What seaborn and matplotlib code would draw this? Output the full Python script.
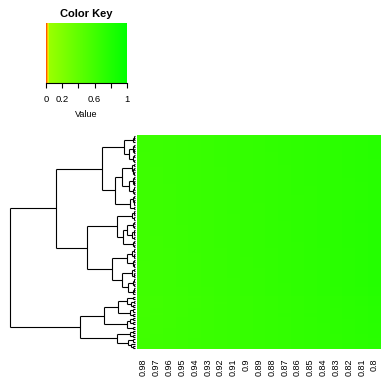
import numpy as np
import pandas as pd
import matplotlib
matplotlib.use("Agg")
import matplotlib.pyplot as plt
import seaborn as sns
from matplotlib.colors import LinearSegmentedColormap

# ---------------- data ----------------
col_labels = ["0.98", "0.97", "0.96", "0.95", "0.94", "0.93", "0.92", "0.91", "0.9",
              "0.89", "0.88", "0.87", "0.86", "0.85", "0.84", "0.83", "0.82", "0.81", "0.8"]
col_base = [0.610, 0.618, 0.626, 0.635, 0.643, 0.651, 0.660, 0.668, 0.677, 0.685,
            0.694, 0.702, 0.711, 0.719, 0.728, 0.736, 0.745, 0.754, 0.765]
tilt_pattern = [-1.0, -0.889, -0.778, -0.667, -0.556, -0.444, -0.333, -0.222, -0.111, 0.0,
                0.111, 0.222, 0.333, 0.444, 0.556, 0.667, 0.778, 0.889, 1.0]

# row profiles of the three main row groups (level coordinate v, tilt coordinate u)
a1_v = [-0.160, -0.155, -0.151, -0.146, -0.128, -0.124, -0.119, -0.115, -0.110,
        -0.092, -0.088, -0.083, -0.079, -0.062, -0.057, -0.053, -0.049, -0.044, -0.040,
        -0.010, -0.006, -0.001, 0.003, 0.008, 0.025, 0.029, 0.034, 0.038,
        0.055, 0.059, 0.064, 0.068, 0.072, 0.088, 0.092]
a1_u = 0.0
a2_v = [-0.190, -0.184, -0.179, -0.173, -0.168, -0.148, -0.143, -0.137, -0.132,
        -0.112, -0.106, -0.101, -0.095, -0.090, -0.070, -0.065, -0.059, -0.054,
        0.000, 0.005, 0.011, 0.016, 0.022, 0.042, 0.047, 0.053, 0.058,
        0.078, 0.083, 0.089, 0.094, 0.100, 0.120, 0.125, 0.131, 0.136,
        0.160, 0.166, 0.171, 0.177]
a2_u = 0.500
b_u = [0.060, 0.075, 0.088, 0.100, 0.115, 0.160, 0.172, 0.185, 0.198,
       0.240, 0.252, 0.265, 0.278, 0.290, 0.302, 0.350, 0.362, 0.375, 0.388,
       0.420, 0.433, 0.446, 0.458, 0.470, 0.480]
b_v = 0.66

K = 0.02
TILT = 1.643

row_v = np.array(a1_v + a2_v + [b_v] * len(b_u))
row_u = np.array([a1_u] * len(a1_v) + [a2_u] * len(a2_v) + b_u)
level = -K * row_v
tilt = K * TILT * (row_u - 0.27)
M = np.array(col_base)[None, :] + level[:, None] + tilt[:, None] * np.array(tilt_pattern)[None, :]
n = M.shape[0]

# ---------------- complete-linkage clustering of rows ----------------
D = np.sqrt(((M[:, None, :] - M[None, :, :]) ** 2).sum(-1))
np.fill_diagonal(D, np.inf)
alive = np.ones(n, bool)
ids = list(range(n))
children, height, members = {}, {}, {i: [i] for i in range(n)}
for m in range(n - 1):
    Dm = np.where(alive[:, None] & alive[None, :], D, np.inf)
    a, b = np.unravel_index(np.argmin(Dm), Dm.shape)
    new = n + m
    children[new] = (ids[a], ids[b])
    height[new] = Dm[a, b]
    members[new] = members[ids[a]] + members[ids[b]]
    D[a, :] = np.maximum(D[a, :], D[b, :])
    D[:, a] = D[a, :]
    D[a, a] = np.inf
    alive[b] = False
    ids[a] = new
root = 2 * n - 2
rm = M.mean(axis=1)


def weight(node):
    return rm[members[node]].mean()


def ordered(node):
    if node < n:
        return [node]
    c = sorted(children[node], key=weight)
    return ordered(c[0]) + ordered(c[1])


order = ordered(root)
ypos = {leaf: i for i, leaf in enumerate(order)}


def node_y(node):
    if node < n:
        return ypos[node]
    c0, c1 = children[node]
    return (node_y(c0) + node_y(c1)) / 2.0


# ---------------- figure ----------------
W, H = 382, 381
fig = plt.figure(figsize=(W / 100, H / 100), dpi=100)
plt.rcParams["font.family"] = ["Liberation Sans", "DejaVu Sans"]


def px(x0, y0, x1, y1):
    return [x0 / W, 1 - y1 / H, (x1 - x0) / W, (y1 - y0) / H]


hax = fig.add_axes(px(137, 135, 381, 349))
dax = fig.add_axes(px(10, 135, 135, 349))
kax = fig.add_axes(px(46, 23, 127, 83))

cmap = LinearSegmentedColormap.from_list(
    "key", [(0.0, "#ff2a00"), (0.012, "#ff8c00"), (0.025, "#ffee00"),
            (0.04, "#99ff00"), (1.0, "#00ff00")], N=512)

df = pd.DataFrame(M[order[::-1]], columns=col_labels)
sns.heatmap(df, ax=hax, cmap=cmap, vmin=0, vmax=1, cbar_ax=kax,
            cbar_kws={"orientation": "horizontal"}, yticklabels=False, xticklabels=True)
hax.tick_params(axis="x", length=0, pad=7, labelsize=6.5, labelrotation=90)
hax.tick_params(axis="y", length=0)
hax.set_xlabel("")
hax.set_ylabel("")

# dendrogram
for node, (c0, c1) in children.items():
    h = height[node]
    y0, y1 = node_y(c0), node_y(c1)
    for c, yc in ((c0, y0), (c1, y1)):
        hc = height[c] if c >= n else 0.0
        dax.plot([hc, h], [yc, yc], color="black", lw=0.8, clip_on=False, solid_capstyle="butt")
    dax.plot([h, h], [y0, y1], color="black", lw=0.8, clip_on=False, solid_capstyle="butt")
dax.set_xlim(height[root], 0)
dax.set_ylim(-0.5, n - 0.5)
dax.axis("off")

# color key
cb = hax.collections[0].colorbar
cb.set_ticks([0, 0.2, 0.4, 0.6, 0.8, 1])
cb.set_ticklabels(["0", "0.2", "", "0.6", "", "1"])
cb.outline.set_visible(False)
kax.spines["bottom"].set_visible(True)
kax.spines["bottom"].set_linewidth(0.8)
kax.tick_params(axis="x", length=3.8, width=0.8, labelsize=6.8, pad=5)
kax.set_xlabel("Value", fontsize=6.5, labelpad=4)
kax.set_title("Color Key", fontsize=8, fontweight="bold", pad=4)

fig.savefig("out.png", dpi=100)
